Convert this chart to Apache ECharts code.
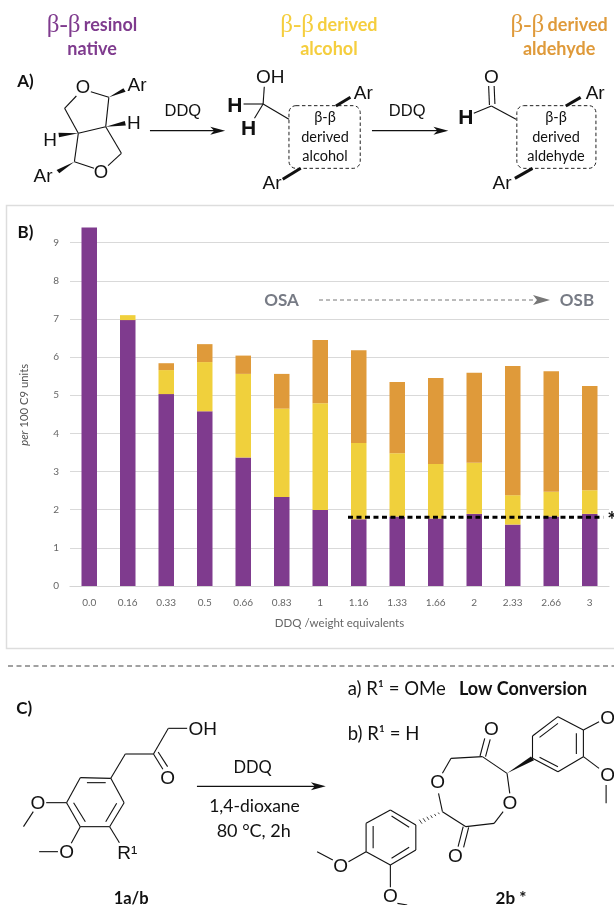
<!DOCTYPE html>
<html><head><meta charset="utf-8">
<style>html,body{margin:0;padding:0;background:#fff}#c{width:614px;height:905px}</style>
<script src="https://cdn.jsdelivr.net/npm/echarts@6/dist/echarts.min.js"></script>
</head><body><div id="c"></div>
<script>
const categories = ['0.0','0.16','0.33','0.5','0.66','0.83','1','1.16','1.33','1.66','2','2.33','2.66','3'];
const resinol  = [9.40,6.97,5.03,4.58,3.37,2.33,1.99,1.75,1.82,1.77,1.89,1.61,1.82,1.89];
const alcohol  = [0,0.13,0.63,1.29,2.19,2.32,2.80,2.00,1.66,1.43,1.34,0.77,0.65,0.62];
const aldehyde = [0,0,0.18,0.47,0.48,0.91,1.66,2.43,1.87,2.25,2.36,3.39,3.16,2.73];
const thresholdLine = [[7.22,1.8],[13.85,1.8]];

const PURPLE='#7F3B8E', YELLOW='#F0D03C', ORANGE='#DF9A3A';
const kx=1/2.554, ky=1/3;
const SANS='"Liberation Sans"', CAL='Lato';
let g=[];
function L(x1,y1,x2,y2,oy,w){g.push({type:'line',silent:true,shape:{x1:x1*kx,y1:y1*ky+oy,x2:x2*kx,y2:y2*ky+oy},style:{stroke:'#111',lineWidth:w||1.1}});}
function P(pts,oy){for(let i=0;i<pts.length-1;i++)L(pts[i][0],pts[i][1],pts[i+1][0],pts[i+1][1],oy);}
function W(x1,y1,x2,y2,oy,b){const dx=x2-x1,dy=y2-y1,n=Math.hypot(dx,dy),ux=-dy/n*(b||6),uy=dx/n*(b||6);
  g.push({type:'polygon',silent:true,shape:{points:[[x1*kx,y1*ky+oy],[(x2+ux)*kx,(y2+uy)*ky+oy],[(x2-ux)*kx,(y2-uy)*ky+oy]]},style:{fill:'#111'}});}
function T(s,x,y,oy,size,o){o=o||{};g.push({type:'text',silent:true,style:{text:s,x:x*kx,y:y*ky+oy,align:o.align||'center',verticalAlign:'middle',fontSize:size,fontFamily:o.font||SANS,fontWeight:o.bold?'bold':'normal',fill:o.fill||'#111'}});}
function Arrow(x1,x2,y,oy){L(x1,y,x2-10,y,oy,1.1);g.push({type:'polygon',silent:true,shape:{points:[[x2*kx,y*ky+oy],[(x2-38)*kx,(y-12)*ky+oy],[(x2-28)*kx,y*ky+oy],[(x2-38)*kx,(y+12)*ky+oy]]},style:{fill:'#111'}});}
function DBox(x,y,w,h,oy){g.push({type:'rect',silent:true,shape:{x:x*kx,y:y*ky+oy,width:w*kx,height:h*ky,r:7},style:{fill:'none',stroke:'#222',lineWidth:1,lineDash:[3.5,2.5]}});}

// panel frame and headings
g.push({type:'rect',silent:true,z:-5,shape:{x:6.5,y:205.5,width:640,height:443},style:{fill:'none',stroke:'#dddddd',lineWidth:1.5}});
function H(a,b,x,y1,y2,col){g.push({type:'text',silent:true,style:{x:x*kx,y:y1*ky,align:'center',verticalAlign:'middle',text:'{b|β-β} {t|'+a+'}',rich:{b:{fontFamily:'"Liberation Serif"',fontSize:25,fill:col},t:{fontFamily:CAL,fontWeight:'bold',fontSize:18,fill:col}}}});
  T(b,x,y2,0,18,{font:CAL,bold:true,fill:col});}
H('resinol','native',235,75,147,PURPLE);
H('derived','alcohol',840,75,147,'#F5CE3E');
H('derived','aldehyde',1428,75,147,ORANGE);
T('A)',65,245,0,17,{font:CAL,bold:true});

const AR=19, ATOM=18.5;
// resinol
T('O',212,265,0,ATOM);T('Ar',350,257,0,AR);T('H',342,370,0,AR);T('H',128,422,0,AR);T('O',258,520,0,ATOM);T('Ar',110,530,0,AR);
P([[195,288],[165,325],[200,400],[190,485],[240,505]],0);P([[232,275],[278,292],[270,380],[310,460],[276,497]],0);L(200,400,270,380,0);
W(278,292,318,270,0,6);W(270,380,320,370,0,7);W(200,400,150,405,0,7);W(190,485,148,515,0,6);
Arrow(383,575,392,0);T('DDQ',467,335,0,16.5);
// alcohol
T('OH',690,232,0,AR);T('H',600,320,0,21,{bold:true});T('H',635,388,0,21,{bold:true});
L(675,260,672,312,0);L(622,312,672,312,0);L(672,312,650,355,0);L(672,312,738,358,0);
DBox(738,317,182,188,0);T('β-β',830,352,0,14.5,{font:CAL});T('derived',830,412,0,14.5,{font:CAL});T('alcohol',830,470,0,14.5,{font:CAL});
L(858,318,895,292,0,3);T('Ar',928,280,0,AR);L(768,505,722,538,0,3);T('Ar',695,550,0,AR);
Arrow(950,1145,392,0);T('DDQ',1040,335,0,16.5);
// aldehyde
T('O',1255,232,0,AR);L(1248,258,1250,315,0);L(1262,258,1264,312,0);T('H',1190,355,0,21,{bold:true});
L(1210,340,1255,318,0);L(1255,318,1318,358,0);
DBox(1320,317,202,188,0);T('β-β',1420,352,0,14.5,{font:CAL});T('derived',1420,412,0,14.5,{font:CAL});T('aldehyde',1420,470,0,14.5,{font:CAL});
L(1445,318,1483,292,0,3);T('Ar',1520,280,0,AR);L(1360,505,1315,535,0,3);T('Ar',1282,550,0,AR);

// OSA -> OSB
function Free(text,x,y,size,fill,bold){g.push({type:'text',silent:true,style:{text,x,y,align:'center',verticalAlign:'middle',fontFamily:CAL,fontWeight:bold?'bold':'normal',fontSize:size,fill}});}
Free('OSA',281.5,300.5,17,'#777b85',true);
Free('OSB',577,300.5,17,'#777b85',true);
g.push({type:'line',silent:true,shape:{x1:319,y1:300,x2:535,y2:300},style:{stroke:'#777',lineWidth:1,lineDash:[4,3]}});
g.push({type:'polygon',silent:true,shape:{points:[[550,300],[533,295],[537,300],[533,305]]},style:{fill:'#777'}});
Free('B)',25.5,233,17,'#111',true);
Free('*',612,521,22,'#111',true);

// panel C
const C=650;
g.push({type:'line',silent:true,shape:{x1:8,y1:666,x2:614,y2:666},style:{stroke:'#444',lineWidth:1.1,lineDash:[5,3.5]}});
T('C)',62,175,C,17,{font:CAL,bold:true});
P([[205,383],[283,385],[317,458],[280,530],[205,530],[170,458],[205,383]],C);
L(222,398,270,398,C);L(298,460,270,515,C);L(188,458,218,515,C);
P([[283,385],[320,312],[392,312],[430,235],[478,235]],C);T('OH',518,238,C,AR);
L(392,312,416,358,C);L(404,306,428,350,C);T('O',428,385,C,AR);
L(170,458,118,458,C);T('O',97,462,C,AR);L(85,485,60,530,C);
L(205,530,182,580,C);T('O',170,608,C,AR);L(148,605,100,605,C);
L(280,530,305,578,C);T('R¹',325,612,C,AR);
T('1a/b',335,745,C,16.5,{font:CAL,bold:true});
Arrow(503,832,409,C);T('DDQ',645,352,C,16.5,{font:CAL});T('1,4-dioxane',650,468,C,17.5,{font:CAL});T('80 °C, 2h',648,545,C,18,{font:CAL});
T('a) R¹ = OMe',888,118,C,18.5,{font:CAL,align:'left'});T('Low Conversion',1172,118,C,18,{font:CAL,bold:true,align:'left'});
T('b) R¹ = H',888,252,C,18.5,{font:CAL,align:'left'});
T('O',1255,238,C,AR);L(1238,265,1226,318,C);L(1252,268,1240,320,C);
P([[1152,325],[1232,320],[1295,370]],C);W(1295,370,1360,325,C,7);
P([[1360,325],[1360,258],[1425,200],[1490,240],[1490,320],[1425,365],[1360,325]],C);
L(1378,262,1425,220,C);L(1472,250,1472,312,C);L(1378,322,1425,350,C);
L(1490,240,1530,215,C);T('O',1552,205,C,AR);L(1490,320,1530,355,C);T('O',1552,378,C,AR);L(1548,405,1548,460,C);
L(1295,370,1302,430,C);T('O',1302,460,C,AR);P([[1285,485],[1262,520],[1190,530]],C);
L(1183,530,1170,590,C);L(1197,532,1184,592,C);T('O',1163,620,C,AR);
L(1190,530,1130,485,C);L(1130,485,1120,430,C);T('O',1118,398,C,AR);L(1130,370,1152,325,C);
for(let i=1;i<7;i++){const t=i/7,x=1130-65*t,y=485+35*t,d=2+6*t;L(x-d*.5,y-d*.85,x+d*.5,y+d*.85,C,.8);}
P([[1062,525],[1062,600],[997,645],[935,605],[935,520],[997,480],[1062,525]],C);
L(1045,532,1000,498,C);L(953,528,953,595,C);L(1045,592,1000,625,C);
L(935,605,890,635,C);T('O',870,650,C,AR);L(850,630,810,605,C);L(997,645,997,712,C);T('O',997,740,C,AR);L(1015,760,1040,765,C);
T('2b *',1305,745,C,17,{font:CAL,bold:true});

const chart=echarts.init(document.getElementById('c'),null,{renderer:'canvas'});
const bar=(name,data,color)=>({name,type:'bar',stack:'t',xAxisIndex:0,yAxisIndex:0,data,barWidth:15.5,itemStyle:{color},silent:true,animation:false});
chart.setOption({
  animation:false,backgroundColor:'#fff',
  grid:{left:70,right:5,top:223.6,height:362.4,containLabel:false},
  xAxis:[
   {type:'category',data:categories,axisTick:{show:false},axisLine:{lineStyle:{color:'#d4d4d4',width:1.2}},
    axisLabel:{color:'#666',fontSize:10,fontFamily:CAL,margin:12,interval:0},
    name:'DDQ /weight equivalents',nameLocation:'middle',nameGap:31,nameTextStyle:{color:'#666',fontSize:11.5,fontFamily:CAL}},
   {type:'value',show:false,min:0,max:14}],
  yAxis:{type:'value',min:0,max:9.5,interval:1,axisLine:{show:false},axisTick:{show:false},
    splitLine:{lineStyle:{color:'#d9d9d9',width:1.2},showMaxLine:false},
    axisLabel:{color:'#666',fontSize:10,fontFamily:CAL,margin:11,showMaxLabel:false},
    name:'{i|per} 100 C9 units',nameLocation:'middle',nameGap:40,
    nameTextStyle:{color:'#555',fontSize:11.3,fontFamily:CAL,rich:{i:{fontStyle:'italic',fontSize:11.3,fontFamily:CAL,color:'#555'}}}},
  series:[
    bar('β-β resinol native',resinol,PURPLE),
    bar('β-β derived alcohol',alcohol,YELLOW),
    bar('β-β derived aldehyde',aldehyde,ORANGE),
    {type:'line',xAxisIndex:1,yAxisIndex:0,data:thresholdLine,symbol:'none',silent:true,z:5,
     lineStyle:{color:'#000',width:3,type:[5,3.5]}}
  ],
  graphic:{elements:g}
});
</script></body></html>
